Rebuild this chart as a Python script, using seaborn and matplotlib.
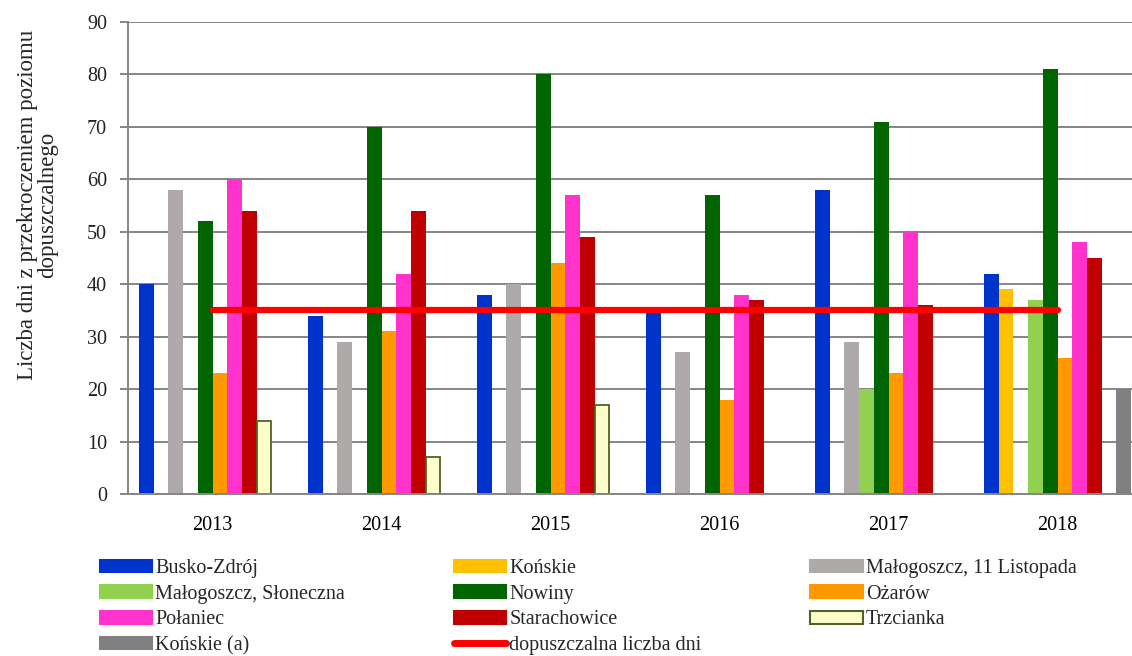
import matplotlib
matplotlib.use("Agg")
import matplotlib.pyplot as plt
import matplotlib.patches as mpatches
import matplotlib.colors as mcolors
from matplotlib.lines import Line2D
import numpy as np
import pandas as pd
import seaborn as sns

years = ["2013", "2014", "2015", "2016", "2017", "2018"]
stations = [
    "Busko-Zdrój", "Końskie", "Małogoszcz, 11 Listopada", "Małogoszcz, Słoneczna",
    "Nowiny", "Ożarów", "Połaniec", "Starachowice", "Trzcianka", "Końskie (a)",
]
busko = [40, 34, 38, 35, 58, 42]
konskie = [None, None, None, None, None, 39]
malogoszcz_11 = [58, 29, 40, 27, 29, None]
malogoszcz_slon = [None, None, None, None, 20, 37]
nowiny = [52, 70, 80, 57, 71, 81]
ozarow = [23, 31, 44, 18, 23, 26]
polaniec = [60, 42, 57, 38, 50, 48]
starachowice = [54, 54, 49, 37, 36, 45]
trzcianka = [14, 7, 17, None, None, None]
konskie_a = [None, None, None, None, None, 20]
limit_days = 35
limit_label = "dopuszczalna liczba dni"

colors = ["#0033CC", "#FFC000", "#AEAAAA", "#92D050", "#006400",
          "#FF9900", "#FF33CC", "#C00000", "#FFFFCC", "#808080"]
trz_edge = "#4F6228"

series = [busko, konskie, malogoszcz_11, malogoszcz_slon, nowiny,
          ozarow, polaniec, starachowice, trzcianka, konskie_a]
rows = []
for name, vals in zip(stations, series):
    for yr, v in zip(years, vals):
        if v is not None:
            rows.append({"year": yr, "station": name, "days": v})
df = pd.DataFrame(rows)

sns.set_style("white")
plt.rcParams["font.family"] = ["Liberation Serif", "DejaVu Serif"]

fig = plt.figure(figsize=(11.32, 6.56), dpi=100)
ax = fig.add_axes([128 / 1132, 162 / 656, (1142 - 128) / 1132, 472 / 656])

sns.barplot(data=df, x="year", y="days", hue="station", order=years,
            hue_order=stations, palette=dict(zip(stations, colors)),
            saturation=1, width=0.87, gap=0, linewidth=0, legend=False, ax=ax)

trz_rgba = mcolors.to_rgba(colors[stations.index("Trzcianka")])
for p in ax.patches:
    if np.allclose(p.get_facecolor(), trz_rgba, atol=0.01):
        p.set_edgecolor(trz_edge)
        p.set_linewidth(1.3)

xpos = np.arange(len(years))
ax.plot(xpos, [limit_days] * len(years), color="#FF0000", lw=4.5,
        solid_capstyle="round", zorder=5)

ax.set_ylim(0, 90)
ax.set_yticks(range(0, 91, 10))
ax.set_xlim(-0.5, len(years) - 0.5)
ax.set_axisbelow(True)
ax.yaxis.grid(True, color="#858585", lw=1.4)
ax.xaxis.grid(False)
for s in ["top", "right"]:
    ax.spines[s].set_visible(False)
for s in ["left", "bottom"]:
    ax.spines[s].set_color("#858585")
    ax.spines[s].set_linewidth(1.4)

ax.set_xticks(xpos)
ax.set_xticks(np.arange(-0.5, len(years), 1.0), minor=True)
ax.tick_params(axis="x", which="major", length=0, pad=16, labelsize=14.5, colors="black")
ax.tick_params(axis="x", which="minor", length=6, width=1.4, color="#858585", direction="out")
ax.tick_params(axis="y", length=6, width=1.4, color="#858585", direction="out",
               left=True, pad=9, labelsize=14.5, labelcolor="#222222")
ax.set_xlabel("")
ax.set_ylabel("Liczba dni z przekroczeniem poziomu\ndopuszczalnego", fontsize=16.5,
              linespacing=0.95)
ax.yaxis.set_label_coords(-0.069, 0.612)

handles = {}
for name, c in zip(stations, colors):
    ec = trz_edge if name == "Trzcianka" else c
    handles[name] = mpatches.Patch(facecolor=c, edgecolor=ec, lw=1.5)
handles[limit_label] = Line2D([], [], color="#FF0000", lw=5, solid_capstyle="round")

order = ["Busko-Zdrój", "Małogoszcz, Słoneczna", "Połaniec", "Końskie (a)",
         "Końskie", "Nowiny", "Starachowice", limit_label,
         "Małogoszcz, 11 Listopada", "Ożarów", "Trzcianka"]
fig.legend([handles[k] for k in order], order, ncol=3, loc="upper left",
           bbox_to_anchor=(100 / 1132, 1 - 559 / 656), frameon=False,
           fontsize=14.5, handlelength=2.6, handleheight=0.6, handletextpad=0.15,
           labelspacing=0.33, columnspacing=5.4, borderpad=0, borderaxespad=0)

fig.savefig("out.png", dpi=100)
